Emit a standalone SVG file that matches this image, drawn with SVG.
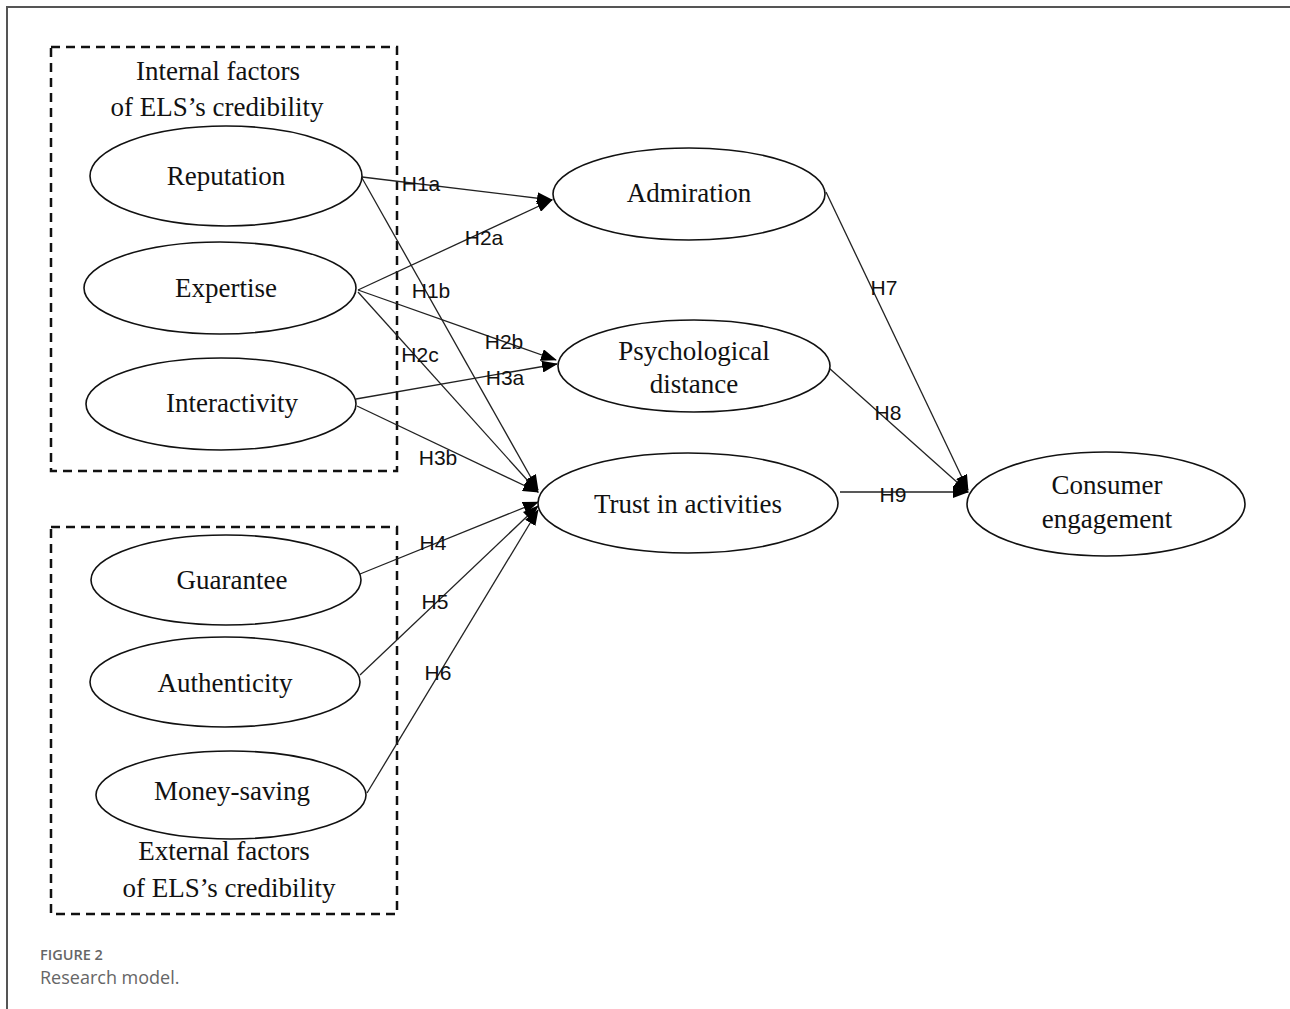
<svg xmlns="http://www.w3.org/2000/svg" width="1290" height="1009" viewBox="0 0 1290 1009">
<defs>
<style>
.frame{fill:none;stroke:#555;stroke-width:2}
.box{fill:none;stroke:#111;stroke-width:2.5;stroke-dasharray:9 6}
.node{fill:#fff;stroke:#111;stroke-width:1.6}
.lbl{font-family:"Liberation Serif","Times New Roman",serif;font-size:27px;fill:#111;text-anchor:middle}
.edge{fill:none;stroke:#222;stroke-width:1.3;marker-end:url(#arr)}
.h{font-family:"Liberation Sans",Arial,sans-serif;font-size:21px;fill:#111;text-anchor:middle}
.cap1{font-family:"Open Sans","Liberation Sans",sans-serif;font-size:14.5px;font-weight:600;fill:#666}
.cap2{font-family:"Open Sans","Liberation Sans",sans-serif;font-size:18px;fill:#666}
</style>
<marker id="arr" markerUnits="userSpaceOnUse" markerWidth="16" markerHeight="12" refX="15" refY="6" orient="auto">
<path d="M0,0 L16,6 L0,12 z" fill="#000"/>
</marker>
</defs>
<rect width="1290" height="1009" fill="#fff"/>
<path class="frame" d="M7,1009 L7,7 L1290,7"/>

<g id="internal-box">
<rect class="box" x="51" y="47" width="346" height="424"/>
<text class="lbl" x="218" y="80">Internal factors</text>
<text class="lbl" x="217" y="116">of ELS’s credibility</text>
</g>
<g id="external-box">
<rect class="box" x="51" y="527" width="346" height="387"/>
<text class="lbl" x="224" y="860">External factors</text>
<text class="lbl" x="229" y="897">of ELS’s credibility</text>
</g>

<g id="connectors">
<line class="edge" x1="362" y1="177" x2="552" y2="200"/>
<line class="edge" x1="358" y1="290" x2="552" y2="200"/>
<line class="edge" x1="362" y1="178" x2="538" y2="490"/>
<line class="edge" x1="358" y1="290" x2="556" y2="360"/>
<line class="edge" x1="358" y1="292" x2="538" y2="492"/>
<line class="edge" x1="356" y1="399" x2="557" y2="364"/>
<line class="edge" x1="357" y1="406" x2="538" y2="492"/>
<line class="edge" x1="360" y1="574" x2="538" y2="502"/>
<line class="edge" x1="360" y1="675" x2="538" y2="506"/>
<line class="edge" x1="367" y1="793" x2="538" y2="510"/>
<line class="edge" x1="826" y1="192" x2="968" y2="490"/>
<line class="edge" x1="829" y1="368" x2="968" y2="492"/>
<line class="edge" x1="840" y1="492" x2="968" y2="492"/>
<text class="h" x="421" y="191">H1a</text>
<text class="h" x="484" y="245">H2a</text>
<text class="h" x="431" y="298">H1b</text>
<text class="h" x="504" y="349">H2b</text>
<text class="h" x="420" y="362">H2c</text>
<text class="h" x="505" y="385">H3a</text>
<text class="h" x="438" y="465">H3b</text>
<text class="h" x="433" y="550">H4</text>
<text class="h" x="435" y="609">H5</text>
<text class="h" x="438" y="680">H6</text>
<text class="h" x="884" y="295">H7</text>
<text class="h" x="888" y="420">H8</text>
<text class="h" x="893" y="502">H9</text>
</g>

<g id="reputation"><ellipse class="node" cx="226" cy="176" rx="136" ry="50"/><text class="lbl" x="226" y="185">Reputation</text></g>
<g id="expertise"><ellipse class="node" cx="220" cy="288" rx="136" ry="46"/><text class="lbl" x="226" y="297">Expertise</text></g>
<g id="interactivity"><ellipse class="node" cx="221" cy="404" rx="135" ry="46"/><text class="lbl" x="232" y="412">Interactivity</text></g>
<g id="guarantee"><ellipse class="node" cx="226" cy="580" rx="135" ry="45"/><text class="lbl" x="232" y="589">Guarantee</text></g>
<g id="authenticity"><ellipse class="node" cx="225" cy="682" rx="135" ry="45"/><text class="lbl" x="225" y="692">Authenticity</text></g>
<g id="money-saving"><ellipse class="node" cx="231" cy="795" rx="135" ry="44"/><text class="lbl" x="232" y="800">Money-saving</text></g>
<g id="admiration"><ellipse class="node" cx="689" cy="194" rx="136" ry="46"/><text class="lbl" x="689" y="202">Admiration</text></g>
<g id="psychological-distance"><ellipse class="node" cx="694" cy="366" rx="136" ry="46"/><text class="lbl" x="694" y="360">Psychological</text><text class="lbl" x="694" y="393">distance</text></g>
<g id="trust"><ellipse class="node" cx="688" cy="503" rx="150" ry="50"/><text class="lbl" x="688" y="513">Trust in activities</text></g>
<g id="consumer-engagement"><ellipse class="node" cx="1106" cy="504" rx="139" ry="52"/><text class="lbl" x="1107" y="494">Consumer</text><text class="lbl" x="1107" y="528">engagement</text></g>

<g id="caption">
<text class="cap1" x="40" y="960">FIGURE 2</text>
<text class="cap2" x="40" y="984">Research model.</text>
</g>
</svg>
